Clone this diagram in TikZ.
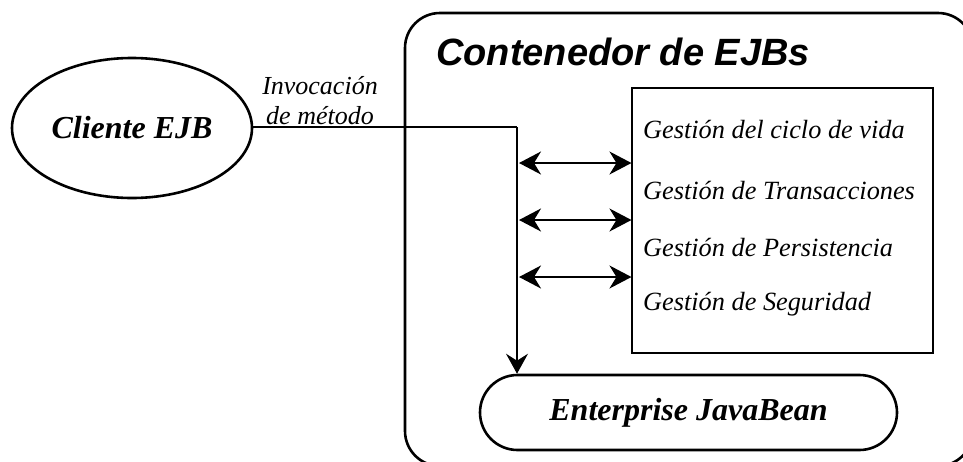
\documentclass[tikz,border=0pt]{standalone}
\usepackage{fontspec}
\setmainfont{Liberation Serif}
\setsansfont{Liberation Sans}
\usepackage{tikz}
\usetikzlibrary{positioning}
\usetikzlibrary{shapes.geometric}
\usetikzlibrary{arrows.meta}

\begin{document}
\begin{tikzpicture}[
                x=1pt, y=-1pt,
                clientenode/.style={ellipse, draw, line width=2.6pt, minimum width=240pt, minimum height=140pt, font=\fontsize{32}{36}\selectfont\bfseries\itshape},
                contenedornode/.style={rectangle, draw, line width=2.6pt, rounded corners=35pt, minimum width=568pt, minimum height=453pt},
                beannode/.style={rectangle, draw, line width=2.6pt, rounded corners=37.5pt, minimum width=417pt, minimum height=75pt, font=\fontsize{32}{36}\selectfont\bfseries\itshape},
                serviciosnode/.style={rectangle, draw, line width=1.1pt, minimum width=301pt, minimum height=265pt},
                gestionnode/.style={anchor=west, inner sep=0pt, font=\fontsize{26.3}{30}\selectfont\itshape},
                flecha/.style={-{Stealth[length=20pt, width=22pt, inset=7pt]}, line width=1.1pt},
                doble/.style={{Stealth[length=22pt, width=23pt, inset=7pt]}-{Stealth[length=22pt, width=23pt, inset=7pt]}, line width=2pt},
            ]
            \clip (0,0) rectangle (963,461);

            % Nodes
            \node[clientenode]      (cliente)       at (132,128)        {Cliente EJB};
            \node[align=center, font=\fontsize{26}{30}\selectfont\itshape, inner sep=0pt]
                                    (invocacion)    at (320,101)        {Invocaci\'on\\de m\'etodo};

            \node[contenedornode]   (contenedor)    at (689,239.5)      {};
            \node[font=\fontsize{38}{42}\selectfont\sffamily\bfseries\itshape]
                                    (titulo)        at (623,52)         {Contenedor de EJBs};

            \node[serviciosnode]    (servicios)     at (782.5,220.5)    {};
            \node[gestionnode]      (ciclo)         at (643,129)        {Gesti\'on del ciclo de vida};
            \node[gestionnode]      (transacciones) at (643,190)        {Gesti\'on de Transacciones};
            \node[gestionnode]      (persistencia)  at (643,247)        {Gesti\'on de Persistencia};
            \node[gestionnode]      (seguridad)     at (643,304)        {Gesti\'on de Seguridad};

            \node[beannode]         (bean)          at (688.5,412.5)    {Enterprise JavaBean};

            \coordinate (codo) at (517,127);

            %Lines
            \draw[line width=1.1pt] (cliente.east |- codo) -- (codo);
            \draw[flecha] (codo) -- (codo |- bean.north);

            \foreach \y [count=\i] in {163,220,277} {
                \coordinate (izq\i) at (519,\y);
                \draw[doble] (izq\i) -- (izq\i -| servicios.west);
            }
        \end{tikzpicture}
\end{document}
